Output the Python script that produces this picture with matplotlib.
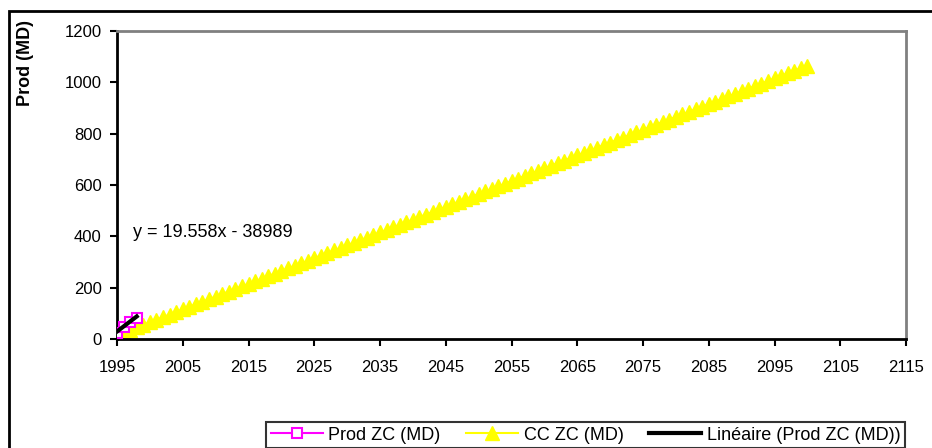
import matplotlib.pyplot as plt
import matplotlib.patches as patches
import numpy as np

plt.rcParams['font.family'] = ['Liberation Sans', 'DejaVu Sans']

prod_years = [1995, 1996, 1997, 1998]
prod_values = [25, 45, 68, 83]

cc_years = list(range(1995, 2101))
cc_values = [
    15, 25, 35, 45, 55, 65, 75, 85, 95, 105,
    115, 125, 135, 145, 155, 165, 175, 185, 195, 205,
    215, 225, 235, 245, 255, 265, 275, 285, 295, 305,
    315, 325, 335, 345, 355, 365, 375, 385, 395, 405,
    415, 425, 435, 445, 455, 465, 475, 485, 495, 505,
    515, 525, 535, 545, 555, 565, 575, 585, 595, 605,
    615, 625, 635, 645, 655, 665, 675, 685, 695, 705,
    715, 725, 735, 745, 755, 765, 775, 785, 795, 805,
    815, 825, 835, 845, 855, 865, 875, 885, 895, 905,
    915, 925, 935, 945, 955, 965, 975, 985, 995, 1005,
    1015, 1025, 1035, 1045, 1055, 1065,
]

trend_slope = 19.558
trend_intercept = -38989

x_ticks = list(range(1995, 2116, 10))
y_ticks = list(range(0, 1201, 200))

fig = plt.figure(figsize=(9.32, 4.48), dpi=100)
ax = fig.add_axes([117 / 932, 1 - 339 / 448, (906 - 117) / 932, (339 - 31) / 448])

ax.plot(cc_years, cc_values, color='#ffff00', lw=1.5, marker='^', ms=10,
        mfc='#ffff00', mec='#ffff00', label='CC ZC (MD)', zorder=2)
ax.plot(prod_years, prod_values, color='#ff00ff', lw=1.5, marker='s', ms=7,
        mfc='white', mec='#ff00ff', mew=1.5, label='Prod ZC (MD)', zorder=3)
tx = np.array([prod_years[0], prod_years[-1]])
ax.plot(tx, trend_slope * tx + trend_intercept, color='black', lw=3,
        label='Linéaire (Prod ZC (MD))', zorder=4)

ax.set_xlim(1995, 2115)
ax.set_ylim(0, 1200)
ax.set_xticks(x_ticks)
ax.set_yticks(y_ticks)
ax.tick_params(labelsize=12, direction='out', length=5, width=1.5, colors='black')
ax.tick_params(axis='x', pad=10)
ax.tick_params(axis='y', pad=6)
for s in ['left', 'bottom']:
    ax.spines[s].set_linewidth(2)
    ax.spines[s].set_color('black')
for s in ['top', 'right']:
    ax.spines[s].set_linewidth(2)
    ax.spines[s].set_color('#808080')

ax.text(1997.4, 413, 'y = 19.558x - 38989', fontsize=13, ha='left', va='center')
fig.text(26 / 932, 1 - 63 / 448, 'Prod (MD)', rotation=90, fontsize=13,
         fontweight='bold', ha='center', va='center')

# outer chart frame
fig.patches.append(patches.Rectangle((9 / 932, -0.1), 1.2, 1.1 - 11 / 448, fill=False,
                                     lw=2, edgecolor='black', transform=fig.transFigure))

h, l = ax.get_legend_handles_labels()
order = [1, 0, 2]
leg = fig.legend([h[i] for i in order], [l[i] for i in order], ncol=3,
                 loc='upper left', bbox_to_anchor=(266 / 932, 1 - 422 / 448),
                 fontsize=13, frameon=True, fancybox=False, borderpad=0.25,
                 handlelength=2.9, handletextpad=0.3, columnspacing=1.4, borderaxespad=0)
leg.get_frame().set_edgecolor('black')
leg.get_frame().set_linewidth(1.5)

fig.savefig('out.png', dpi=100)
